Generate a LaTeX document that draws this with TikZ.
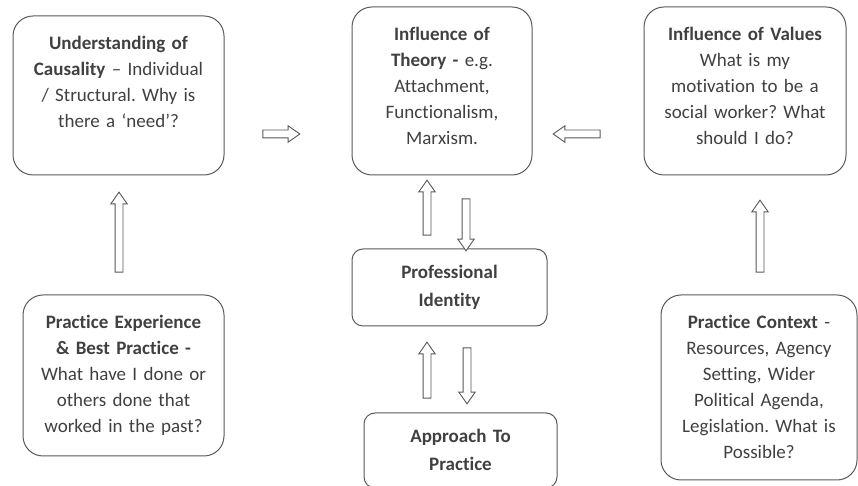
\documentclass[tikz,border=0pt]{standalone}
\usepackage{fontspec}
\setmainfont{Carlito}[Ligatures={NoCommon,NoContextual}]
\usetikzlibrary{shapes.arrows}
\frenchspacing

\definecolor{linegray}{HTML}{595959}
\definecolor{txtgray}{HTML}{404040}

\tikzset{
  card/.style={draw=linegray, line width=1pt, rounded corners=20pt, text=txtgray,
    align=center, inner xsep=5pt, inner ysep=0pt, text height=33.5pt,
    font=\fontsize{19}{26}\selectfont},
  tag/.style={card, rounded corners=11pt, text height=30pt,
    font=\fontsize{19}{28}\selectfont},
  blk/.style={single arrow, draw=linegray, line width=0.9pt, fill=white,
    inner sep=3.5pt, single arrow head extend=4.25pt,
    single arrow tip angle=70, single arrow head indent=0pt}
}

\begin{document}
\begin{tikzpicture}[x=1pt,y=1pt]
    \useasboundingbox (0,0) rectangle (858,486);
    % boxes
    \node[card, text width=201pt, text depth=125.5pt] (caus) at (118.5,390.5)
    {\textbf{Understanding of}\\ \textbf{Causality} – Individual\\ / Structural. Why is\\ there a ‘need’?};
    \node[card, text width=170pt, text depth=134.5pt] (theo) at (442,395)
    {\textbf{Influence of}\\ \textbf{Theory -} e.g.\\ Attachment,\\ Functionalism,\\ Marxism.};
    \node[card, text width=192pt, text depth=134.5pt] (vals) at (745,395)
    {\textbf{Influence of Values}\\ What is my\\ motivation to be a\\ social worker? What\\ should I do?};
    \node[card, text width=191pt, text depth=127.5pt] (expr) at (123.5,110.5)
    {\textbf{Practice Experience}\\ \textbf{\& Best Practice -}\\ What have I done or\\ others done that\\ worked in the past?};
    \node[tag, text width=185pt, text depth=47pt] (iden) at (449.5,198.5)
    {\textbf{Professional}\\ \textbf{Identity}};
    \node[tag, text width=183pt, text depth=45pt] (appr) at (460.5,35.5)
    {\textbf{Approach To}\\ \textbf{Practice}};
    \node[card, text width=186pt, text depth=151.5pt] (ctxt) at (759,98.5)
    {\textbf{Practice Context} -\\ Resources, Agency\\ Setting, Wider\\ Political Agenda,\\ Legislation. What is\\ Possible?};
    % block arrows
    \node[blk, minimum height=37pt] (arr1) at (278.5,352) {};
    \node[blk, shape border rotate=180, minimum height=47pt] (arr2) at (579.5,352) {};
    \node[blk, shape border rotate=90, minimum height=80pt] (arr3) at (119,251) {};
    \node[blk, shape border rotate=90, minimum height=72pt] (arr4) at (760,247) {};
    \node[blk, shape border rotate=90, minimum height=55pt] (arr5) at (427,275.5) {};
    \node[blk, shape border rotate=270, minimum height=52pt] (arr6) at (466,264) {};
    \node[blk, shape border rotate=90, minimum height=56pt] (arr7) at (427,113) {};
    \node[blk, shape border rotate=270, minimum height=56pt] (arr8) at (467,113) {};
\end{tikzpicture}
\end{document}
